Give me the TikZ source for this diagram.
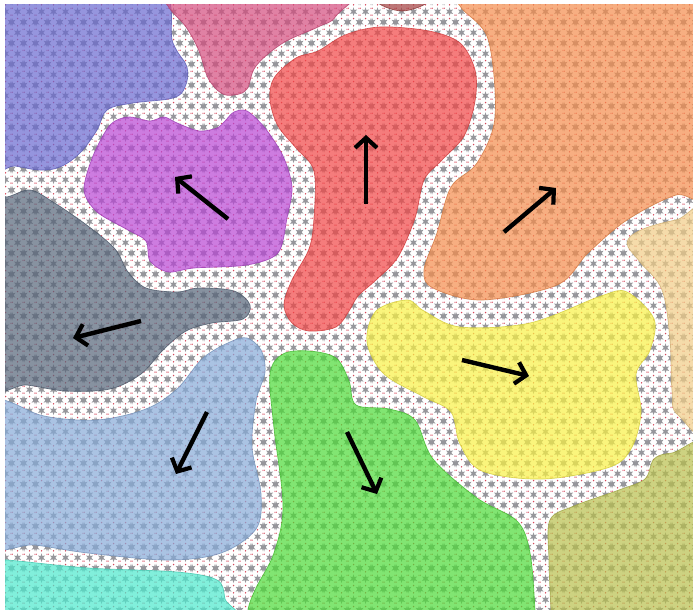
\documentclass[tikz,border=0pt]{standalone}
\usetikzlibrary{patterns,arrows.meta}
\def\mystarat#1#2{%
  \pgfpathmoveto{\pgfpoint{#1pt}{#2pt+4.4pt}}%
  \pgfpathlineto{\pgfpoint{#1pt+0.95pt}{#2pt+1.65pt}}%
  \pgfpathlineto{\pgfpoint{#1pt+3.81pt}{#2pt+2.2pt}}%
  \pgfpathlineto{\pgfpoint{#1pt+1.9pt}{#2pt}}%
  \pgfpathlineto{\pgfpoint{#1pt+3.81pt}{#2pt-2.2pt}}%
  \pgfpathlineto{\pgfpoint{#1pt+0.95pt}{#2pt-1.65pt}}%
  \pgfpathlineto{\pgfpoint{#1pt}{#2pt-4.4pt}}%
  \pgfpathlineto{\pgfpoint{#1pt-0.95pt}{#2pt-1.65pt}}%
  \pgfpathlineto{\pgfpoint{#1pt-3.81pt}{#2pt-2.2pt}}%
  \pgfpathlineto{\pgfpoint{#1pt-1.9pt}{#2pt}}%
  \pgfpathlineto{\pgfpoint{#1pt-3.81pt}{#2pt+2.2pt}}%
  \pgfpathlineto{\pgfpoint{#1pt-0.95pt}{#2pt+1.65pt}}%
  \pgfpathclose}
\pgfdeclarepatterninherentlycolored{starfield}{\pgfpointorigin}{\pgfpoint{12pt}{20.78pt}}{\pgfpoint{12pt}{20.78pt}}{%
  \definecolor{stargray}{RGB}{150,150,155}%
  \definecolor{dotred}{RGB}{215,70,90}%
  \pgfsetfillcolor{stargray}%
  \mystarat{0}{0}\mystarat{12}{0}\mystarat{0}{20.78}\mystarat{12}{20.78}\mystarat{6}{10.39}%
  \pgfusepath{fill}%
  \pgfsetfillcolor{dotred}%
  \pgfpathcircle{\pgfpoint{6pt}{3.46pt}}{0.85pt}%
  \pgfpathcircle{\pgfpoint{0pt}{6.93pt}}{0.85pt}%
  \pgfpathcircle{\pgfpoint{12pt}{6.93pt}}{0.85pt}%
  \pgfpathcircle{\pgfpoint{0pt}{13.86pt}}{0.85pt}%
  \pgfpathcircle{\pgfpoint{12pt}{13.86pt}}{0.85pt}%
  \pgfpathcircle{\pgfpoint{6pt}{17.32pt}}{0.85pt}%
  \pgfusepath{fill}}
\definecolor{cviolet}{RGB}{105,105,208}
\definecolor{cpink}{RGB}{212,76,126}
\definecolor{cdkred}{RGB}{162,62,62}
\definecolor{cred}{RGB}{241,69,69}
\definecolor{corange}{RGB}{245,141,76}
\definecolor{cpurple}{RGB}{184,69,212}
\definecolor{cgray}{RGB}{85,100,120}
\definecolor{cbeige}{RGB}{241,205,134}
\definecolor{cyellow}{RGB}{248,241,69}
\definecolor{clblue}{RGB}{134,170,216}
\definecolor{cgreen}{RGB}{76,219,55}
\definecolor{colive}{RGB}{184,191,76}
\definecolor{ccyan}{RGB}{76,233,205}
\tikzset{
  blob/.style={fill=#1, fill opacity=0.7, draw=#1!85!black, draw opacity=0.8, line width=0.7pt},
  motion/.style={line width=4.4pt, -{Straight Barb[length=10pt,width=22pt,line width=4.2pt]}}
}
\begin{document}
\begin{tikzpicture}[x=1pt,y=-1pt]
\useasboundingbox (0,0) rectangle (693,610);
\fill[white] (0,0) rectangle (693,610);
\begin{scope}
\clip (5,5) rectangle (693,610);
\fill[pattern=starfield] (0,0) rectangle (700,620);
% violet top-left
\path[blob=cviolet] plot[smooth cycle, tension=0.6] coordinates {(-20,-20) (150,-20) (173,43) (187,67) (185,87) (173,98) (133,103) (107,110) (97,130) (80,153) (60,167) (40,170) (15,166) (-20,160)};
% pink top
\path[blob=cpink] plot[smooth cycle, tension=0.6] coordinates {(160,-20) (168,6) (186,27) (199,51) (208,78) (221,93) (234,95) (247,89) (256,66) (283,43) (318,27) (336,16) (350,-20)};
% small dark red
\path[blob=cdkred] plot[smooth cycle, tension=0.6] coordinates {(376,0) (402,11) (429,0) (402,-15)};
% red centre
\path[blob=cred] plot[smooth cycle, tension=0.55] coordinates {(270,100) (274,78) (296,58) (318,51) (345,35) (380,27) (429,31) (460,43) (475,70) (475,101) (464,136) (442,160) (424,180) (415,218) (398,257) (376,280) (358,296) (349,311) (336,327) (309,331) (292,323) (284,305) (292,280) (309,249) (314,218) (314,171) (296,148) (278,126)};
% orange top-right
\path[blob=corange] plot[smooth cycle, tension=0.55] coordinates {(455,-20) (460,6) (488,39) (495,117) (477,163) (451,187) (437,233) (424,270) (433,288) (482,300) (557,285) (588,253) (627,220) (676,195) (720,190) (720,-20)};
% beige right edge
\path[blob=cbeige] plot[smooth cycle, tension=0.6] coordinates {(720,215) (676,220) (641,230) (627,243) (640,262) (662,290) (670,340) (672,390) (678,415) (720,430)};
% purple
\path[blob=cpurple] plot[smooth cycle, tension=0.5] coordinates {(84,190) (93,156) (110,125) (128,117) (150,121) (164,117) (177,123) (199,131) (217,128) (225,121) (234,112) (247,111) (265,128) (283,156) (292,187) (287,218) (278,253) (247,265) (194,268) (168,272) (150,261) (146,241) (128,230) (97,212)};
% gray
\path[blob=cgray] plot[smooth cycle, tension=0.55] coordinates {(-20,200) (7,197) (30,190) (53,202) (88,226) (115,249) (128,272) (146,288) (177,292) (199,288) (234,291) (250,305) (243,319) (212,323) (186,331) (163,350) (141,374) (110,389) (66,391) (27,385) (-20,380)};
% yellow
\path[blob=cyellow] plot[smooth cycle, tension=0.55] coordinates {(367,342) (376,311) (407,300) (424,311) (460,327) (530,323) (601,296) (627,292) (654,319) (650,350) (636,374) (641,412) (632,447) (610,467) (543,479) (482,471) (460,444) (451,412) (424,397) (384,374)};
% light blue
\path[blob=clblue] plot[smooth cycle, tension=0.55] coordinates {(-20,400) (7,401) (44,416) (97,420) (146,409) (177,389) (203,358) (230,342) (247,338) (261,350) (265,372) (256,401) (252,447) (261,494) (256,529) (221,553) (168,560) (88,553) (35,545) (-20,540)};
% green
\path[blob=cgreen] plot[smooth cycle, tension=0.55] coordinates {(270,374) (283,354) (309,351) (336,358) (349,381) (356,405) (389,409) (415,420) (433,459) (477,498) (517,521) (530,553) (535,610) (536,640) (247,640) (248,610) (256,588) (274,553) (283,506) (274,428)};
% olive bottom-right
\path[blob=colive] plot[smooth cycle, tension=0.55] coordinates {(553,640) (551,610) (549,560) (550,520) (574,506) (619,490) (645,479) (654,459) (672,453) (720,450) (720,640)};
% cyan bottom-left
\path[blob=ccyan] plot[smooth cycle, tension=0.55] coordinates {(-20,560) (7,560) (88,568) (177,572) (217,580) (225,599) (228,630) (-20,630)};
\end{scope}
% arrows
\coordinate (p1) at (228,219); \coordinate (p2) at (175,177);
\coordinate (r1) at (366,204); \coordinate (r2) at (366,135);
\coordinate (o1) at (504,232); \coordinate (o2) at (556,188);
\coordinate (g1) at (141,321); \coordinate (g2) at (73,338);
\coordinate (y1) at (462,360); \coordinate (y2) at (529,376);
\coordinate (b1) at (207,412); \coordinate (b2) at (176,474);
\coordinate (e1) at (347,432); \coordinate (e2) at (377,494);
\draw[motion] (p1) -- (p2);
\draw[motion] (r1) -- (r2);
\draw[motion] (o1) -- (o2);
\draw[motion] (g1) -- (g2);
\draw[motion] (y1) -- (y2);
\draw[motion] (b1) -- (b2);
\draw[motion] (e1) -- (e2);
\end{tikzpicture}
\end{document}
